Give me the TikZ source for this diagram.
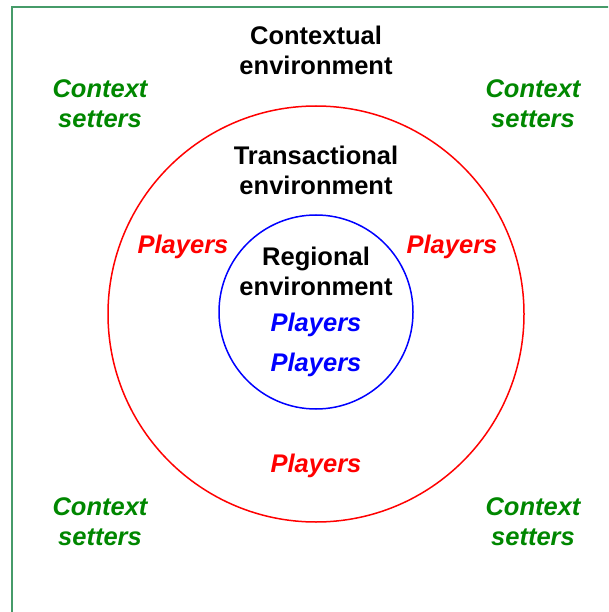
\documentclass[tikz,border=0pt]{standalone}
\usepackage{fontspec}
\setmainfont{Liberation Sans}
\usepackage{tikz}
\definecolor{framegreen}{RGB}{70,155,105}
\definecolor{setgreen}{RGB}{0,135,0}
\tikzstyle{ring} = [circle, inner sep=0pt, line width=1.5pt]
\tikzstyle{envtext} = [align=center, font=\fontsize{25.5}{30}\selectfont\bfseries, text=black]
\tikzstyle{setters} = [align=center, font=\fontsize{25.5}{30}\selectfont\bfseries\itshape, text=setgreen]
\tikzstyle{player} = [align=center, font=\fontsize{25.5}{30}\selectfont\bfseries\itshape]

\begin{document}
\begin{tikzpicture}[x=1pt, y=-1pt]
    \clip (0,0) rectangle (608,612);
    \useasboundingbox (0,0) rectangle (608,612);
    \draw [framegreen, line width=1.5pt] (12,7) rectangle (630,640);
    \node [ring, draw=red, minimum size=416pt] at (316,314) (transring) {};
    \node [ring, draw=blue, minimum size=194pt] at (316,312) (regring) {};
    \node [envtext] at (316,50) (contextual) {Contextual\\environment};
    \node [setters] at (100,104) (setnw) {Context\\setters};
    \node [setters] at (533,104) (setne) {Context\\setters};
    \node [setters] at (100,522) (setsw) {Context\\setters};
    \node [setters] at (533,522) (setse) {Context\\setters};
    \node [envtext] at (316,170) (transactional) {Transactional\\environment};
    \node [player, text=red] at (183,247) (playw) {Players};
    \node [player, text=red] at (452,247) (playe) {Players};
    \node [player, text=red] at (316,466) (plays) {Players};
    \node [envtext] at (316,271) (regional) {Regional\\environment};
    \node [player, text=blue] at (316,325) (playin) {Players};
    \node [player, text=blue] at (316,365) (playinb) {Players};
\end{tikzpicture}
\end{document}
